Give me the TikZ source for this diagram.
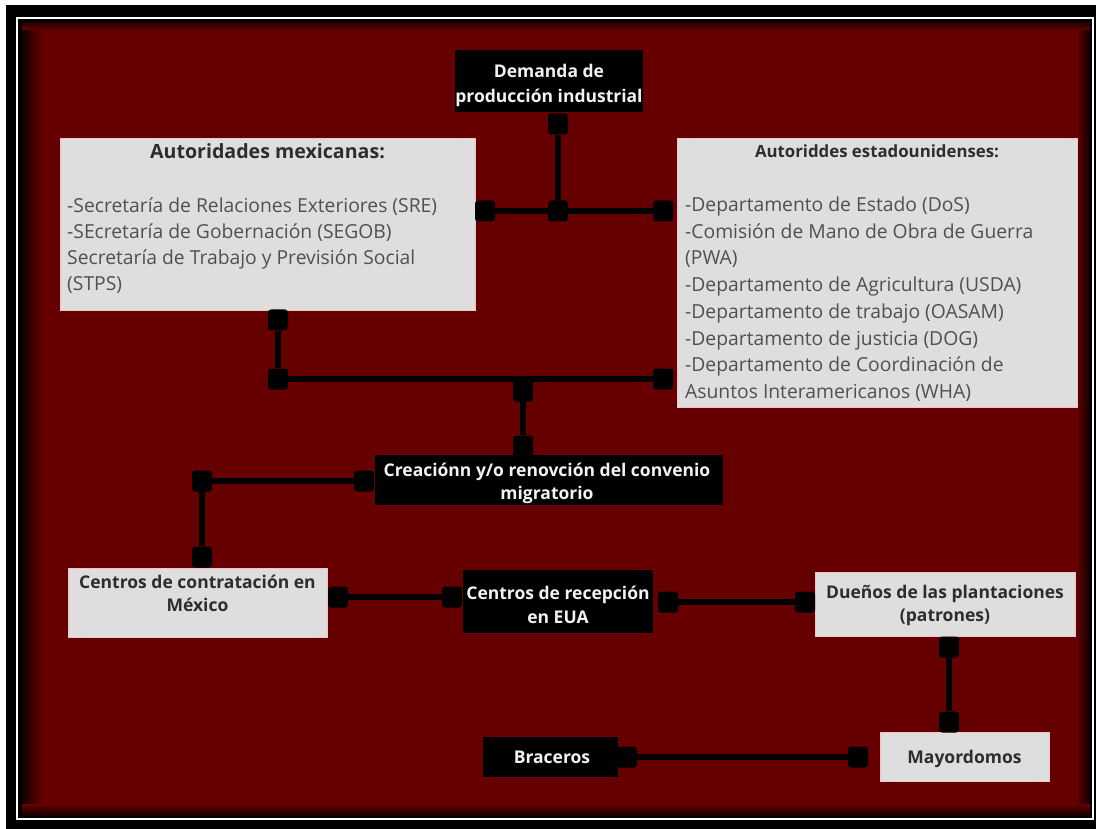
\documentclass[tikz,border=0pt]{standalone}
\usepackage{fontspec}
\setmainfont{Open Sans}
\definecolor{bgred}{RGB}{102,0,0}
\definecolor{boxgray}{RGB}{222,222,222}
\definecolor{boxedge}{RGB}{238,196,196}
\definecolor{txtdark}{RGB}{45,45,45}
\definecolor{txtgray}{RGB}{80,80,80}
\definecolor{txtlight}{RGB}{242,242,242}
\begin{document}
\begin{tikzpicture}[x=1pt,y=-1pt,
  lbox/.style={draw=boxedge, line width=0.8pt, fill=boxgray, inner sep=0pt, anchor=north west},
  dbox/.style={fill=black, inner sep=0pt, anchor=north west},
  sqr/.style={fill=black, rounded corners=3pt, minimum width=20pt, minimum height=21pt, inner sep=0pt},
  conn/.style={line width=5.5pt, draw=black},
  body/.style={font=\fontsize{19.3}{26}\selectfont, text=txtgray, anchor=base west, inner sep=0pt},
  ttl/.style={font=\bfseries\fontsize{19.6}{26}\selectfont, text=txtdark, anchor=base, inner sep=0pt},
  labd/.style={font=\bfseries\fontsize{17.5}{24}\selectfont, text=txtdark, anchor=base, inner sep=0pt},
  labl/.style={font=\bfseries\fontsize{17.5}{24}\selectfont, text=txtlight, anchor=base, inner sep=0pt}]
\useasboundingbox (0,0) rectangle (1096,829);
% frame
\fill[white] (0,0) rectangle (1096,829);
\fill[black] (6,5) rectangle (1096,829);
\draw[white, line width=2.5pt] (17,18) rectangle (1093,819);
\fill[black] (19,20) rectangle (1091,817);
\fill[bgred] (22,23) rectangle (1090,816);
\shade[left color=black!85!bgred, right color=bgred] (22,23) rectangle (42,816);
\shade[left color=bgred, right color=black!85!bgred] (1076,23) rectangle (1090,816);
\shade[top color=bgred, bottom color=black!85!bgred] (22,804) rectangle (1090,816);
\shade[top color=black!60!bgred, bottom color=bgred] (22,23) rectangle (1090,30);

% boxes
\node[dbox, minimum width=188pt, minimum height=62pt] (dem) at (455,50) {};
\node[lbox, minimum width=415pt, minimum height=172pt] (mx) at (60,138) {};
\node[lbox, minimum width=400pt, minimum height=269pt] (us) at (677,138) {};
\node[dbox, minimum width=348pt, minimum height=50pt] (cre) at (375,455) {};
\node[lbox, minimum width=259pt, minimum height=69pt] (con) at (68,568) {};
\node[dbox, minimum width=190pt, minimum height=63pt] (rec) at (463,570) {};
\node[lbox, minimum width=260pt, minimum height=64pt] (due) at (815,572) {};
\node[lbox, minimum width=169pt, minimum height=49pt] (may) at (880,732) {};
\node[dbox, minimum width=135pt, minimum height=40pt] (bra) at (483,737) {};

% squares
\node[sqr] (sqD) at (558,124) {};
\node[sqr] (sqJ) at (558,211) {};
\node[sqr] (sqL) at (485,211) {};
\node[sqr] (sqR) at (663,211) {};
\node[sqr] (sqM1) at (278,320) {};
\node[sqr] (sqM2) at (278,379) {};
\node[sqr] (sqM3) at (663,379) {};
\node[sqr] (sqC1) at (523,391) {};
\node[sqr] (sqC2) at (523,446) {};
\node[sqr] (sqK1) at (364,481) {};
\node[sqr] (sqK2) at (202,481) {};
\node[sqr] (sqK3) at (202,557) {};
\node[sqr] (sqB1) at (338,597) {};
\node[sqr] (sqB2) at (452,597) {};
\node[sqr] (sqB3) at (668,602) {};
\node[sqr] (sqB4) at (805,602) {};
\node[sqr] (sqB5) at (949,647) {};
\node[sqr] (sqB6) at (949,722) {};
\node[sqr] (sqB7) at (627,757) {};
\node[sqr] (sqB8) at (858,757) {};

% connectors
\draw[conn] (sqD) -- (sqJ);
\draw[conn] (sqL) -- (sqR);
\draw[conn] (sqM1) -- (sqM2);
\draw[conn] (sqM2) -- (sqM3);
\draw[conn] (sqC1 |- sqM2) -- (sqC2);
\draw[conn] (sqK1) -- (sqK2.center) -- (sqK3);
\draw[conn] (sqB1) -- (sqB2);
\draw[conn] (sqB3) -- (sqB4);
\draw[conn] (sqB5) -- (sqB6);
\draw[conn] (sqB7) -- (sqB8);

% texts
\node[labl] (dem1) at (549,78) {Demanda de};
\node[labl] (dem2) at (549,103) {producción industrial};

\node[ttl] (mxt) at (267.5,159) {Autoridades mexicanas:};
\foreach \yy/\tx [count=\i] in {213/{-Secretaría de Relaciones Exteriores (SRE)},
  239/{-SEcretaría de Gobernación (SEGOB)},
  265/{Secretaría de Trabajo y Previsión Social},
  291/{(STPS)}}
  \node[body] (mxl\i) at (67,\yy) {\tx};

\node[ttl, font=\bfseries\fontsize{16.8}{22}\selectfont] (ust) at (877,158) {Autoriddes estadounidenses:};
\foreach \yy/\tx [count=\i] in {211.5/{-Departamento de Estado (DoS)},
  238.2/{-Comisión de Mano de Obra de Guerra},
  264.9/{(PWA)},
  291.6/{-Departamento de Agricultura (USDA)},
  318.3/{-Departamento de trabajo (OASAM)},
  345/{-Departamento de justicia (DOG)},
  371.7/{-Departamento de Coordinación de},
  398.4/{Asuntos Interamericanos (WHA)}}
  \node[body] (usl\i) at (685,\yy) {\tx};

\node[labl] (cre1) at (547,476) {Creaciónn y/o renovción del convenio};
\node[labl] (cre2) at (547,499) {migratorio};

\node[labd] (con1) at (197.5,588) {Centros de contratación en};
\node[labd] (con2) at (197.5,611) {México};

\node[labl] (rec1) at (558,599) {Centros de recepción};
\node[labl] (rec2) at (558,623) {en EUA};

\node[labd] (due1) at (945,598) {Dueños de las plantaciones};
\node[labd] (due2) at (945,621) {(patrones)};

\node[labd] (may1) at (964.5,763) {Mayordomos};
\node[labl] (bra1) at (552,763) {Braceros};
\end{tikzpicture}
\end{document}
